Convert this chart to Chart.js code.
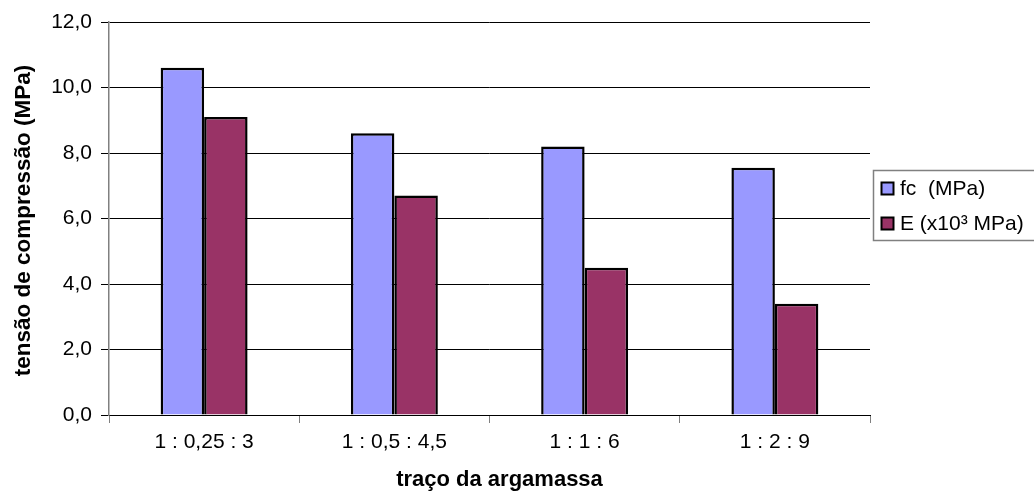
<!DOCTYPE html>
<html>
<head>
<meta charset="utf-8">
<script src="https://cdn.jsdelivr.net/npm/chart.js@4"></script>
<style>
  html, body { margin: 0; padding: 0; background: #fff; }
  #wrap { width: 1034px; height: 492px; position: relative; }
</style>
</head>
<body>
<div id="wrap"><canvas id="c" width="1034" height="492"></canvas></div>
<script>
// traços de argamassa (cimento : cal : areia)
const categories = ['1 : 0,25 : 3', '1 : 0,5 : 4,5', '1 : 1 : 6', '1 : 2 : 9'];
const seriesNames = ['fc  (MPa)', 'E (x10\u00B3 MPa)'];
const fcValues = [10.6, 8.6, 8.2, 7.55];
const eValues = [9.1, 6.7, 4.5, 3.4];
const yTicks = [0, 2, 4, 6, 8, 10, 12];
const xTitle = 'traço da argamassa';
const yTitle = 'tensão de compressão (MPa)';

const FONT = '"Liberation Sans", Arial, sans-serif';

// axis titles, placed relative to the chart area
const axisTitles = {
  id: 'axisTitles',
  afterDraw(chart) {
    const ctx = chart.ctx;
    const a = chart.chartArea;
    ctx.save();
    ctx.fillStyle = '#000';
    ctx.textAlign = 'center';
    ctx.textBaseline = 'middle';
    ctx.font = 'bold 22px ' + FONT;
    ctx.fillText(xTitle, (a.left + a.right) / 2 + 10, a.bottom + 65);
    ctx.translate(a.left - 85, (a.top + a.bottom) / 2 + 2);
    ctx.rotate(-Math.PI / 2);
    ctx.font = 'bold 22.5px ' + FONT;
    ctx.fillText(yTitle, 0, 0);
    ctx.restore();
  }
};

// boxed legend drawn to the right of the plot
const boxLegend = {
  id: 'boxLegend',
  afterDraw(chart) {
    const ctx = chart.ctx;
    const left = 873, top = 170, bottom = 240, right = 1040;
    ctx.save();
    ctx.fillStyle = '#ffffff';
    ctx.fillRect(left, top, right - left, bottom - top);
    ctx.strokeStyle = '#808080';
    ctx.lineWidth = 1.5;
    ctx.strokeRect(left + 0.5, top + 0.5, right - left, bottom - top);
    ctx.font = '21px ' + FONT;
    ctx.textBaseline = 'middle';
    const rows = [188.5, 223.5];
    chart.data.datasets.forEach((ds, i) => {
      const y = rows[i];
      ctx.fillStyle = ds.backgroundColor;
      ctx.fillRect(881.5, y - 6, 12, 12);
      ctx.strokeStyle = '#000';
      ctx.lineWidth = 2;
      ctx.strokeRect(881.5, y - 6, 12, 12);
      ctx.fillStyle = '#000';
      ctx.fillText(ds.label, 900, y + 1);
    });
    ctx.restore();
  }
};

new Chart(document.getElementById('c'), {
  type: 'bar',
  data: {
    labels: categories,
    datasets: [
      { label: seriesNames[0], data: fcValues, backgroundColor: '#9999FF', borderColor: '#000', borderWidth: 2.5 },
      { label: seriesNames[1], data: eValues, backgroundColor: '#993366', borderColor: '#000', borderWidth: 2.5 }
    ]
  },
  options: {
    responsive: false,
    animation: false,
    devicePixelRatio: 1,
    layout: { padding: { left: 0, right: 164, top: 22, bottom: 0 } },
    datasets: { bar: { categoryPercentage: 0.457, barPercentage: 1 } },
    plugins: { legend: { display: false }, tooltip: { enabled: false } },
    scales: {
      x: {
        grid: { drawOnChartArea: false, drawTicks: true, tickLength: 8, color: '#808080', offset: true },
        border: { color: '#000', width: 1 },
        ticks: { color: '#000', font: { family: FONT, size: 21 }, padding: 7, maxRotation: 0 },
        afterFit(scale) { scale.height = 77; }
      },
      y: {
        min: 0, max: 12,
        afterBuildTicks(scale) { scale.ticks = yTicks.map(v => ({ value: v })); },
        grid: { color: '#000', tickLength: 8, drawTicks: true },
        border: { color: '#808080', width: 1.5 },
        ticks: {
          color: '#000', font: { family: FONT, size: 21 }, padding: 9,
          callback: v => v.toFixed(1).replace('.', ',')
        },
        afterFit(scale) { scale.width = 109; }
      }
    }
  },
  plugins: [axisTitles, boxLegend]
});
</script>
</body>
</html>
